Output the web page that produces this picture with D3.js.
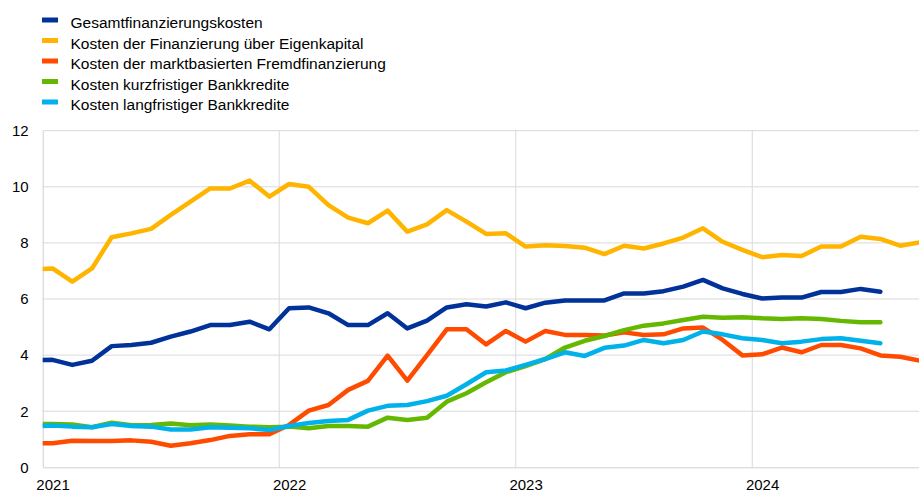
<!DOCTYPE html>
<html><head><meta charset="utf-8">
<script src="https://cdn.jsdelivr.net/npm/d3@7"></script>
<style>body{margin:0;background:#fff;} svg{display:block;} text{font-family:"Liberation Sans",Arial,sans-serif;}</style>
</head><body>
<div id="chart"></div>
<script>
// Month index: -1 = Dec 2020, 0 = Jan 2021, ... 44 = Sep 2024
const startMonth = -1;
const seriesNames = ["Gesamtfinanzierungskosten","Kosten der Finanzierung über Eigenkapital","Kosten der marktbasierten Fremdfinanzierung","Kosten kurzfristiger Bankkredite","Kosten langfristiger Bankkredite"];
const seriesColors = ["#003299","#FFB400","#FF4B00","#65B800","#00B1EA"];
const totalCost = [3.82,3.83,3.65,3.8,4.32,4.36,4.44,4.66,4.84,5.07,5.07,5.19,4.92,5.67,5.7,5.49,5.07,5.07,5.49,4.95,5.23,5.7,5.81,5.73,5.88,5.67,5.87,5.95,5.95,5.95,6.2,6.2,6.28,6.44,6.68,6.38,6.18,6.02,6.05,6.05,6.25,6.25,6.36,6.26];
const equityCost = [7.05,7.09,6.62,7.09,8.2,8.34,8.5,9.0,9.47,9.94,9.94,10.22,9.65,10.1,10.0,9.35,8.9,8.7,9.15,8.4,8.66,9.17,8.76,8.32,8.34,7.87,7.92,7.89,7.83,7.6,7.9,7.8,7.98,8.19,8.52,8.04,7.75,7.49,7.57,7.53,7.87,7.87,8.22,8.14,7.9,8.02];
const marketDebtCost = [0.86,0.86,0.95,0.94,0.94,0.96,0.91,0.77,0.86,0.97,1.12,1.18,1.18,1.51,2.02,2.22,2.76,3.08,3.98,3.09,4.0,4.92,4.92,4.38,4.86,4.48,4.86,4.72,4.72,4.7,4.81,4.72,4.74,4.95,4.98,4.54,3.99,4.03,4.27,4.1,4.36,4.36,4.24,3.99,3.94,3.8];
const shortTermLoanCost = [1.55,1.54,1.53,1.43,1.59,1.5,1.51,1.56,1.5,1.53,1.49,1.45,1.43,1.45,1.39,1.47,1.47,1.45,1.77,1.69,1.77,2.34,2.64,3.03,3.39,3.61,3.86,4.27,4.51,4.68,4.89,5.05,5.13,5.25,5.37,5.33,5.35,5.31,5.29,5.31,5.29,5.22,5.17,5.17];
const longTermLoanCost = [1.45,1.49,1.45,1.43,1.54,1.47,1.45,1.35,1.35,1.43,1.41,1.39,1.33,1.47,1.58,1.65,1.69,2.02,2.19,2.22,2.36,2.55,2.96,3.39,3.45,3.65,3.86,4.1,3.97,4.26,4.34,4.54,4.42,4.54,4.84,4.74,4.6,4.54,4.42,4.48,4.57,4.6,4.51,4.42];
const yearTicks = [0,12,24,36];
const yearLabels = ["2021","2022","2023","2024"];
const yTicks = [0,2,4,6,8,10,12];

const W = 919, H = 492;
const m = {left:42.7, right:0, top:130.7, bottom:24.7};
const x = d3.scaleLinear().domain([0, 44.46]).range([m.left, W - m.right]);
const y = d3.scaleLinear().domain([0, 12]).range([H - m.bottom, m.top]);

const svg = d3.select("#chart").append("svg").attr("width", W).attr("height", H);

// grid
const grid = svg.append("g");
grid.selectAll("line.h").data(yTicks.slice(1)).join("line")
  .attr("x1", m.left).attr("x2", W - m.right)
  .attr("y1", d => y(d)).attr("y2", d => y(d))
  .attr("stroke", "#d9d9d9").attr("stroke-width", 1);
grid.selectAll("line.v").data(yearTicks.slice(1)).join("line")
  .attr("x1", d => x(d)).attr("x2", d => x(d))
  .attr("y1", m.top).attr("y2", y(0))
  .attr("stroke", "#d9d9d9").attr("stroke-width", 1);

// axes
const yAxis = d3.axisLeft(y).tickValues(yTicks).tickSize(0).tickPadding(14);
const gy = svg.append("g").attr("transform", `translate(${m.left},0)`).call(yAxis);
gy.select(".domain").attr("stroke", "#d0d0d0");
gy.selectAll("text").attr("font-size", 15).attr("fill", "#000");

const xAxis = d3.axisBottom(x).tickValues(yearTicks).tickSize(0).tickPadding(12)
  .tickFormat((d, i) => yearLabels[i]);
const gx = svg.append("g").attr("transform", `translate(0,${y(0)})`).call(xAxis);
gx.select(".domain").attr("stroke", "#d0d0d0");
gx.selectAll("text").attr("font-size", 15).attr("fill", "#000").attr("dx", x(0.5) - x(0));

// clip
svg.append("clipPath").attr("id", "clip").append("rect")
  .attr("x", m.left).attr("y", 0).attr("width", W - m.left - m.right).attr("height", H);

const allSeries = [totalCost, equityCost, marketDebtCost, shortTermLoanCost, longTermLoanCost];
const line = d3.line().x((d, i) => x(startMonth + i + 0.5)).y(d => y(d));
const order = [1, 2, 3, 4, 0];
const lines = svg.append("g").attr("clip-path", "url(#clip)");
order.forEach(k => {
  lines.append("path").datum(allSeries[k])
    .attr("d", line).attr("fill", "none")
    .attr("stroke", seriesColors[k]).attr("stroke-width", 4.5)
    .attr("stroke-linejoin", "round").attr("stroke-linecap", "round");
});

// legend
const lg = svg.append("g");
seriesNames.forEach((n, i) => {
  const cy = 20 + i * 20.5;
  lg.append("rect").attr("x", 42).attr("y", cy - 2.5).attr("width", 16).attr("height", 5).attr("fill", seriesColors[i]);
  lg.append("text").attr("x", 70.5).attr("y", cy + 8).attr("font-size", 15.5).attr("fill", "#000").text(n);
});
</script>
</body></html>
